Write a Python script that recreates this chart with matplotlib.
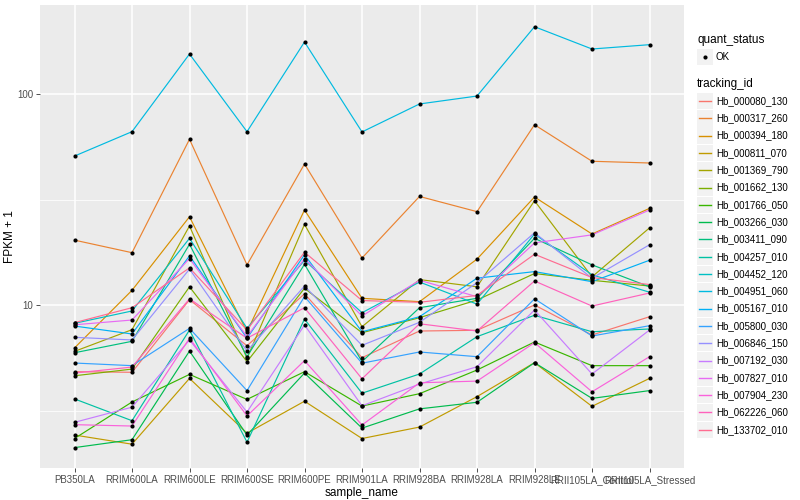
import numpy as np
import matplotlib
matplotlib.use("Agg")
import matplotlib.pyplot as plt
from matplotlib.patches import Rectangle
from matplotlib.lines import Line2D

plt.rcParams['font.family'] = ['Liberation Sans', 'DejaVu Sans']

samples = ["PB350LA", "RRIM600LA", "RRIM600LE", "RRIM600SE", "RRIM600PE",
           "RRIM901LA", "RRIM928BA", "RRIM928LA", "RRIM928LE",
           "RRII105LA_Control", "RRII105LA_Stressed"]

tracking_ids = ["Hb_000080_130", "Hb_000317_260", "Hb_000394_180", "Hb_000811_070",
                "Hb_001369_790", "Hb_001662_130", "Hb_001766_050", "Hb_003266_030",
                "Hb_003411_090", "Hb_004257_010", "Hb_004452_120", "Hb_004951_060",
                "Hb_005167_010", "Hb_005800_030", "Hb_006846_150", "Hb_007192_030",
                "Hb_007827_010", "Hb_007904_230", "Hb_062226_060", "Hb_133702_010"]

colors = ["#F8766D", "#EA8331", "#D89000", "#C09B00", "#A3A500", "#7CAE00",
          "#39B600", "#00BB4E", "#00BF7D", "#00C1A3", "#00BFC4", "#00BAE0",
          "#00B0F6", "#35A2FF", "#9590FF", "#C77CFF", "#E76BF3", "#FA62DB",
          "#FF62BC", "#FF6C91"]

hb_000080_130 = [4.83, 4.80, 10.6, 6.41, 11.3, 5.63, 7.53, 7.59, 10.0, 7.21, 8.80]
hb_000317_260 = [20.3, 17.7, 61.0, 15.5, 46.6, 16.7, 32.7, 27.7, 71.5, 48.0, 47.1]
hb_000394_180 = [6.26, 11.74, 26.2, 7.47, 28.2, 10.76, 10.37, 16.5, 32.5, 21.7, 28.7]
hb_000811_070 = [2.42, 2.19, 4.49, 2.47, 3.50, 2.33, 2.64, 3.68, 5.33, 3.31, 4.49]
hb_001369_790 = [6.03, 7.64, 23.7, 5.59, 24.1, 7.89, 13.2, 12.2, 31.2, 13.6, 23.2]
hb_001662_130 = [4.62, 4.97, 12.2, 5.39, 12.0, 7.39, 8.71, 10.56, 14.1, 13.1, 12.3]
hb_001766_050 = [2.33, 3.47, 4.69, 3.57, 4.83, 3.32, 3.80, 4.92, 6.68, 5.16, 5.16]
hb_003266_030 = [2.11, 2.30, 6.05, 2.42, 4.76, 2.61, 3.22, 3.46, 5.33, 3.61, 3.93]
hb_003411_090 = [5.94, 6.73, 19.4, 5.69, 15.6, 5.39, 9.71, 10.76, 20.7, 15.5, 12.2]
hb_004257_010 = [3.59, 2.83, 7.61, 2.24, 8.58, 3.82, 4.71, 7.08, 8.94, 7.47, 7.70]
hb_004452_120 = [8.19, 9.37, 20.7, 7.75, 16.3, 9.19, 12.85, 10.1, 21.7, 13.9, 11.5]
hb_004951_060 = [50.8, 66.3, 154.7, 66.3, 176.4, 66.1, 89.7, 97.8, 208.4, 163.4, 171.3]
hb_005167_010 = [7.95, 7.29, 17.1, 6.96, 17.3, 7.47, 8.80, 13.4, 14.4, 12.9, 16.3]
hb_005800_030 = [5.31, 5.16, 7.75, 3.93, 10.97, 5.30, 5.99, 5.69, 10.7, 7.13, 7.98]
hb_006846_150 = [7.03, 6.83, 14.8, 6.05, 12.3, 6.44, 8.28, 12.76, 22.0, 13.4, 19.3]
hb_007192_030 = [2.78, 3.28, 6.83, 3.11, 8.04, 3.33, 4.22, 5.10, 9.47, 4.71, 7.61]
hb_007827_010 = [8.06, 8.49, 16.6, 7.08, 16.6, 8.87, 13.1, 10.95, 19.7, 21.5, 28.2]
hb_007904_230 = [2.71, 2.67, 6.96, 2.98, 5.45, 2.70, 4.28, 4.36, 6.63, 3.88, 5.69]
hb_062226_060 = [4.76, 5.08, 10.7, 6.96, 9.71, 4.47, 8.15, 7.53, 13.0, 9.89, 11.4]
hb_133702_010 = [8.25, 9.71, 15.0, 7.61, 17.8, 10.5, 10.3, 11.1, 17.4, 13.5, 12.5]

series = [hb_000080_130, hb_000317_260, hb_000394_180, hb_000811_070, hb_001369_790,
          hb_001662_130, hb_001766_050, hb_003266_030, hb_003411_090, hb_004257_010,
          hb_004452_120, hb_004951_060, hb_005167_010, hb_005800_030, hb_006846_150,
          hb_007192_030, hb_007827_010, hb_007904_230, hb_062226_060, hb_133702_010]

W, H = 800, 500
fig = plt.figure(figsize=(8, 5), dpi=100)
fig.patch.set_facecolor("white")
px0, px1, py0, py1 = 40, 684, 5, 468
ax = fig.add_axes([px0 / W, 1 - py1 / H, (px1 - px0) / W, (py1 - py0) / H])
ax.set_facecolor("#EBEBEB")
for s in ax.spines.values():
    s.set_visible(False)

x = np.arange(len(samples))
ax.set_yscale("log")
ax.set_xlim(-0.6, len(samples) - 1 + 0.6)
ax.set_ylim(1.689, 264.1)

# grid
for v in [10 ** 0.5, 10 ** 1.5]:
    ax.axhline(v, color="white", lw=0.55, zorder=0.5)
for v in [10, 100]:
    ax.axhline(v, color="white", lw=1.1, zorder=0.6)
for xi in x:
    ax.axvline(xi, color="white", lw=1.1, zorder=0.6)

for vals, c in zip(series, colors):
    ax.plot(x, vals, color=c, lw=0.85, zorder=2, solid_capstyle="butt")
for vals in series:
    ax.plot(x, vals, ls="none", marker="o", ms=3.0, mew=0, color="black", zorder=3)

ax.set_yticks([10, 100])
ax.set_yticklabels(["10", "100"])
ax.yaxis.set_minor_locator(matplotlib.ticker.NullLocator())
ax.set_xticks(x)
ax.set_xticklabels(samples)
ax.tick_params(axis="both", length=2.8, width=0.6, color="#333333",
               labelsize=7, labelcolor="#4D4D4D", pad=2)
ax.set_xlabel("sample_name", fontsize=8.5, color="black", labelpad=2)
ax.set_ylabel("FPKM + 1", fontsize=8.5, color="black", labelpad=1)

# legend
def fx(px):
    return px / W

def fy(py):
    return 1 - py / H

fig.text(fx(697), fy(40.5), "quant_status", fontsize=8.5, va="center", ha="left")
fig.patches.append(Rectangle((fx(697), fy(65)), 16 / W, 16 / H, transform=fig.transFigure,
                             facecolor="#F2F2F2", edgecolor="none"))
fig.lines.append(Line2D([fx(705)], [fy(57)], transform=fig.transFigure, marker="o",
                        ms=3.0, mew=0, color="black", ls="none"))
fig.text(fx(716), fy(57), "OK", fontsize=7, va="center", ha="left")

fig.text(fx(697), fy(84.5), "tracking_id", fontsize=8.5, va="center", ha="left")
y0, dy = 101, 17.3
for i, (name, c) in enumerate(zip(tracking_ids, colors)):
    yc = y0 + i * dy
    fig.patches.append(Rectangle((fx(697), fy(yc + 8.2)), 16 / W, 16.4 / H,
                                 transform=fig.transFigure,
                                 facecolor="#F2F2F2", edgecolor="none"))
    fig.lines.append(Line2D([fx(699), fx(711)], [fy(yc), fy(yc)],
                            transform=fig.transFigure, color=c, lw=1.0))
    fig.text(fx(716), fy(yc), name, fontsize=7, va="center", ha="left")

fig.savefig("out.png", dpi=100)
